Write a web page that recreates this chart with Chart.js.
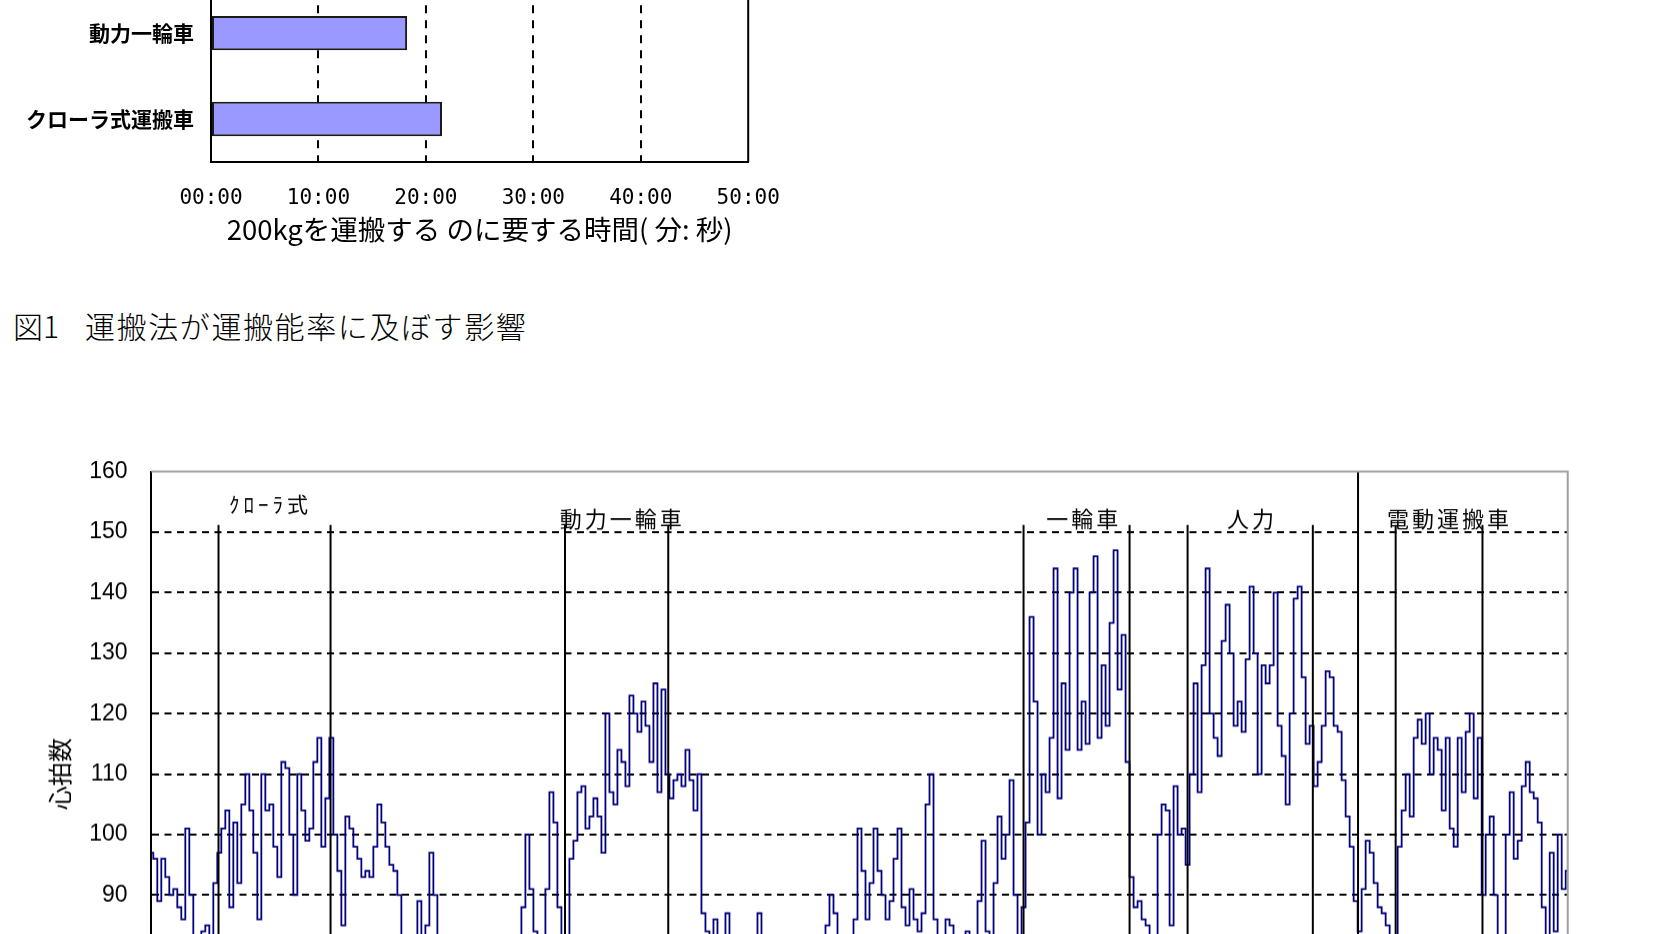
<!DOCTYPE html>
<html><head><meta charset="utf-8">
<script src="https://cdn.jsdelivr.net/npm/chart.js@4.4.1/dist/chart.umd.min.js"></script>
<style>
html,body{margin:0;padding:0;width:1671px;height:934px;overflow:hidden;background:#fff;}
#barBox{position:absolute;left:0;top:-40px;width:830px;height:292px;}
#hrBox{position:absolute;left:0;top:434.4px;width:1580px;height:679.2px;}
.cap{position:absolute;top:305px;font-family:'Noto Sans CJK JP';font-weight:300;font-size:30px;line-height:40px;color:#000;white-space:nowrap;}
</style></head><body>
<div id="barBox"><canvas id="bar"></canvas></div>
<div class="cap" style="left:13px">図1</div>
<div class="cap" style="left:85px;letter-spacing:1.6px">運搬法が運搬能率に及ぼす影響</div>
<div id="hrBox"><canvas id="hr"></canvas></div>
<script>
// ---- Figure 1 (bar chart, partly cropped) ----
const barCategories = ['動力一輪車', 'クローラ式運搬車'];
const barMinutes = [18.25, 21.5];
const barTickStep = 10;
const barAxisMax = 50;
const barAxisTitle = '200kgを運搬する のに要する時間( 分: 秒)';

// ---- Heart-rate trace ----
const heartRate = [
97,96,89,96,93,90,91,88,86,101,
90,82,80,84,85,82,92,97,101,104,
88,102,92,105,110,104,97,86,110,104,
105,98,93,112,111,100,90,110,104,99,
101,112,116,98,106,116,100,94,85,103,
101,98,96,93,94,93,98,105,102,98,
95,94,90,82,80,79,81,89,83,85,
97,90,82,80,
80,79,81,80,82,80,79,81,80,78,
80,82,80,79,81,80,78,80,82,88,
100,91,84,82,80,91,107,102,88,81,
83,96,99,107,108,101,103,106,103,97,
120,107,105,114,112,108,123,120,117,122,
118,112,125,107,124,110,106,109,110,108,
114,109,104,110,87,84,83,86,81,80,
87,80,79,81,
80,79,81,80,87,80,78,80,79,81,
80,79,78,80,81,79,80,79,81,80,
82,85,90,87,82,80,79,81,86,101,
94,86,92,101,94,90,86,89,96,101,
88,85,91,86,84,87,105,110,86,82,
80,86,85,80,79,81,84,80,81,89,
99,84,81,92,103,96,100,109,90,82,
88,
102,136,122,100,110,107,116,144,106,125,114,140,144,114,122,115,140,146,116,128,118,135,147,124,
133,112,93,88,89,86,85,83,82,100,
105,104,85,108,100,101,95,110,125,107,
128,144,120,116,113,132,138,130,118,122,
117,129,141,130,110,128,125,128,140,118,
113,105,120,139,141,126,115,118,108,112,
118,127,126,118,117,109,103,98,89,84,
91,99,97,92,88,87,85,81,82,98,
104,110,103,116,119,115,120,110,116,114,
104,116,101,98,116,107,117,120,106,116,
90,100,103,90,80,81,100,107,96,99,
108,112,107,106,102,88,83,97,84,100,
91,94
];
const hrMin = 60;
const hrMax = 160;
const hrStep = 10;
const hrAxisTitle = '心拍数';
const dividerX = [16.8, 44.8, 103.4, 129.2, 218.0, 244.5, 259.0, 290.3, 301.6, 311.0, 332.7];
const dividerTop = [151.2, 151.2, 151.2, 151.2, 151.2, 151.2, 151.2, 151.2, 160, 151.2, 151.2];
const segmentLabels = ['ｸﾛｰﾗ式', '動力一輪車', '一輪車', '人力', '電動運搬車'];
const segmentLabelX = [29.3, 117.3, 232.7, 274.7, 324.1];
const segmentLabelY = [154.6, 152.2, 152.2, 152.2, 152.2];

Chart.defaults.font.family = "'Noto Sans CJK JP'";
Chart.defaults.color = '#000';

const barRightBorder = {
  id: 'barRightBorder',
  afterDraw(chart) {
    const {ctx, chartArea: a} = chart;
    ctx.save();
    ctx.strokeStyle = '#000';
    ctx.lineWidth = 2;
    ctx.beginPath();
    ctx.moveTo(a.left, a.top);
    ctx.lineTo(a.right, a.top);
    ctx.lineTo(a.right, a.bottom);
    ctx.stroke();
    ctx.restore();
  }
};

new Chart(document.getElementById('bar'), {
  type: 'bar',
  data: {
    labels: barCategories,
    datasets: [{
      data: barMinutes,
      backgroundColor: '#9999ff',
      borderColor: '#1a1a1a',
      borderWidth: 2,
      borderSkipped: false,
      barPercentage: 0.4,
      categoryPercentage: 1
    }]
  },
  options: {
    indexAxis: 'y',
    responsive: true,
    maintainAspectRatio: false,
    animation: false,
    layout: {padding: {top: 30.2, left: 0, right: 81.8, bottom: 0}},
    plugins: {legend: {display: false}, tooltip: {enabled: false}},
    scales: {
      x: {
        min: 0, max: barAxisMax,
        ticks: {
          stepSize: barTickStep,
          callback: v => String(v).padStart(2, '0') + ':00',
          font: {family: "'DejaVu Sans Mono'", size: 21, lineHeight: 1.2},
          color: '#000', padding: 23.6, maxRotation: 0, autoSkip: false
        },
        grid: {
          color: c => (c.tick && (c.tick.value === 0 || c.tick.value === barAxisMax)) ? 'rgba(0,0,0,0)' : '#000',
          lineWidth: 2, drawTicks: false
        },
        border: {display: true, color: '#000', width: 2, dash: [8, 7]},
        title: {display: true, text: barAxisTitle, font: {family: "'Noto Sans CJK JP'", size: 27.5, lineHeight: 1.2}, color: '#000', padding: {top: 0, bottom: 5.5}},
        afterFit(s) { s.height = 90; }
      },
      y: {
        ticks: {font: {family: "'Noto Sans CJK JP'", size: 21, weight: 'bold', lineHeight: 1.2}, color: '#000', padding: 17},
        grid: {display: false, drawTicks: false},
        border: {display: true, color: '#000', width: 2},
        afterFit(s) { s.width = 211; }
      }
    }
  },
  plugins: [barRightBorder]
});

const hrFrame = {
  id: 'hrFrame',
  afterDraw(chart) {
    const {ctx, chartArea: a} = chart;
    ctx.save();
    ctx.strokeStyle = '#a0a0a0';
    ctx.lineWidth = 2;
    ctx.beginPath();
    ctx.moveTo(a.left, a.top);
    ctx.lineTo(a.right, a.top);
    ctx.lineTo(a.right, a.bottom);
    ctx.stroke();
    ctx.restore();
  }
};

const hrLabels = {
  id: 'hrLabels',
  afterDraw(chart) {
    const {ctx, scales: {x, y}} = chart;
    ctx.save();
    ctx.fillStyle = '#000';
    ctx.textAlign = 'center';
    ctx.textBaseline = 'middle';
    segmentLabels.forEach((t, k) => {
      const sp = k === 0 ? 4 : 3;
      ctx.font = (k === 0 ? '21px' : '22px') + " 'Noto Sans CJK JP'";
      ctx.letterSpacing = sp + 'px';
      ctx.fillText(t, x.getPixelForValue(segmentLabelX[k]) + sp / 2, y.getPixelForValue(segmentLabelY[k]));
    });
    ctx.restore();
  }
};

const dividerData = [];
dividerX.forEach((dx, k) => {
  dividerData.push({x: dx, y: dividerTop[k]}, {x: dx, y: hrMin}, {x: dx, y: null});
});

new Chart(document.getElementById('hr'), {
  type: 'line',
  data: {
    datasets: [
      {
        data: heartRate.map((v, i) => ({x: i, y: v})),
        borderColor: '#000080', borderWidth: 1.8, pointRadius: 0,
        stepped: 'middle', fill: false, order: 2
      },
      {
        data: dividerData,
        borderColor: '#000', borderWidth: 2, pointRadius: 0,
        fill: false, spanGaps: false, order: 1
      }
    ]
  },
  options: {
    responsive: true,
    maintainAspectRatio: false,
    animation: false,
    layout: {padding: {top: 0, left: 0, right: 12.3, bottom: 0}},
    plugins: {legend: {display: false}, tooltip: {enabled: false}},
    scales: {
      x: {type: 'linear', min: 0, max: heartRate.length - 1, display: false},
      y: {
        min: hrMin, max: hrMax,
        ticks: {stepSize: hrStep, font: {family: "'Liberation Sans'", size: 23, lineHeight: 1.2}, color: '#000', padding: 23.8},
        grid: {
          color: c => (c.tick && c.tick.value === hrMax) ? 'rgba(0,0,0,0)' : '#000',
          lineWidth: 2, drawTicks: false
        },
        border: {display: true, color: '#000', width: 2, dash: [7, 5.5]},
        title: {display: true, text: hrAxisTitle, font: {family: "'Noto Sans CJK JP'", size: 24, lineHeight: 1.2}, color: '#000', padding: {top: 45.1, bottom: 0}},
        afterFit(s) { s.width = 151.3; }
      }
    }
  },
  plugins: [hrFrame, hrLabels]
});
</script>
</body></html>
